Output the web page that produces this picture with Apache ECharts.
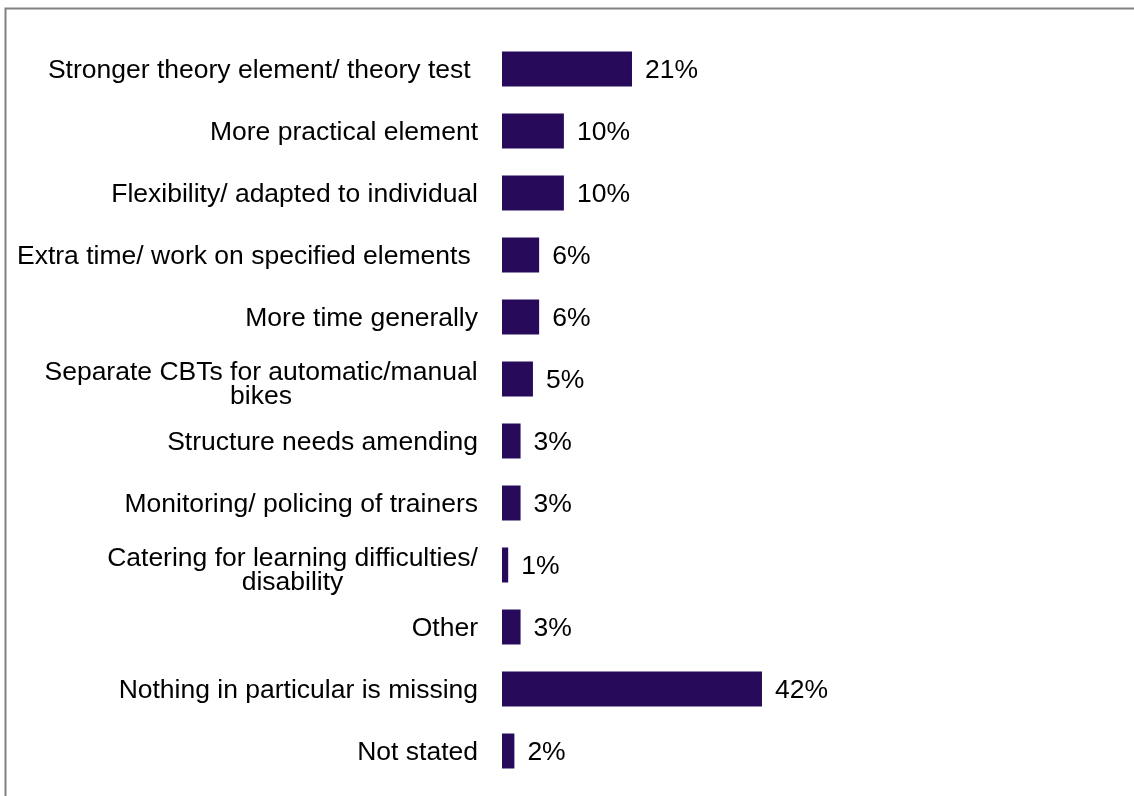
<!DOCTYPE html>
<html>
<head>
<meta charset="utf-8">
<script src="https://cdn.jsdelivr.net/npm/echarts@6/dist/echarts.min.js"></script>
<style>
html,body{margin:0;padding:0;background:#fff;}
#chart{width:1134px;height:796px;}
</style>
</head>
<body>
<div id="chart"></div>
<script>
const categories = [
  "Stronger theory element/ theory test ",
  "More practical element",
  "Flexibility/ adapted to individual",
  "Extra time/ work on specified elements ",
  "More time generally",
  "Separate CBTs for automatic/manual\nbikes",
  "Structure needs amending",
  "Monitoring/ policing of trainers",
  "Catering for learning difficulties/\ndisability",
  "Other",
  "Nothing in particular is missing",
  "Not stated"
];
const values = [21, 10, 10, 6, 6, 5, 3, 3, 1, 3, 42, 2];

const FONT = '"Liberation Sans", Arial, sans-serif';
const FS = 26.5;
const ctx = document.createElement('canvas').getContext('2d');
ctx.font = FS + 'px ' + FONT;
const rich = { s: { fontSize: 4, lineHeight: 8 } };
const richKey = {};
categories.forEach((c, i) => {
  if (c.indexOf('\n') >= 0) {
    const lines = c.split('\n');
    const w = Math.ceil(Math.max(...lines.map(l => ctx.measureText(l).width)));
    const k = 'm' + i;
    rich[k] = { width: w, align: 'center', fontSize: FS, fontFamily: FONT, color: '#000', lineHeight: 24 };
    richKey[c] = k;
  }
});

const chart = echarts.init(document.getElementById('chart'), null, { renderer: 'canvas' });
chart.setOption({
  animation: false,
  backgroundColor: '#fff',
  textStyle: { fontFamily: FONT },
  graphic: [{
    type: 'rect',
    shape: { x: 5.5, y: 8.5, width: 1300, height: 1000 },
    style: { fill: 'none', stroke: '#808080', lineWidth: 2 },
    silent: true
  }],
  grid: { left: 502, right: 13, top: 38, bottom: 14, containLabel: false },
  xAxis: {
    type: 'value', min: 0, max: 100, show: false,
    splitLine: { show: false }
  },
  yAxis: {
    type: 'category', data: categories, inverse: true,
    axisLine: { show: false }, axisTick: { show: false }, splitLine: { show: false },
    axisLabel: {
      margin: 24, fontSize: FS, color: '#000', fontFamily: FONT, interval: 0,
      padding: [4, 0, 0, 0],
      formatter: function (v) {
        const k = richKey[v];
        if (k) return '{s| }\n' + v.split('\n').map(l => '{' + k + '|' + l + '}').join('\n');
        return v;
      },
      rich: rich
    }
  },
  series: [{
    type: 'bar', data: values, barWidth: 35,
    itemStyle: { color: '#270b5a' },
    label: {
      show: true, position: 'right', distance: 13, formatter: '{c}%',
      offset: [0, 2],
      fontSize: FS, color: '#000', fontFamily: FONT
    }
  }]
});
</script>
</body>
</html>
